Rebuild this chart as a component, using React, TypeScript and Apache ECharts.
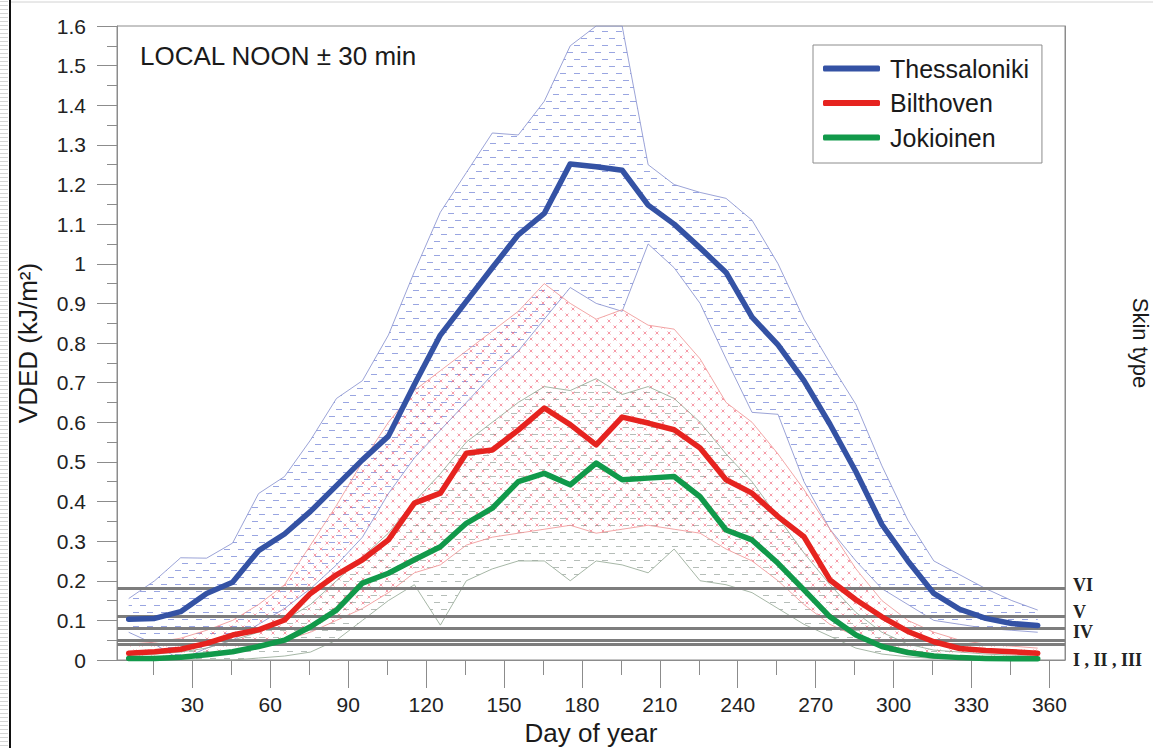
import React, { useEffect, useRef } from "react";
import * as echarts from "echarts";

// ---- data ----
const days = [5.5, 15.5, 25.5, 35.5, 45.5, 55.5, 65.5, 75.5, 85.5, 95.5, 105.5, 115.5, 125.5, 135.5, 145.5, 155.5, 165.5, 175.5, 185.5, 195.5, 205.5, 215.5, 225.5, 235.5, 245.5, 255.5, 265.5, 275.5, 285.5, 295.5, 305.5, 315.5, 325.5, 335.5, 345.5, 355.5];

const thessMean = [0.103, 0.105, 0.122, 0.168, 0.196, 0.276, 0.318, 0.375, 0.44, 0.505, 0.565, 0.695, 0.82, 0.905, 0.99, 1.073, 1.127, 1.252, 1.245, 1.236, 1.148, 1.1, 1.04, 0.978, 0.865, 0.795, 0.705, 0.595, 0.475, 0.342, 0.25, 0.168, 0.128, 0.105, 0.092, 0.087];
const thessMax = [0.155, 0.2, 0.258, 0.257, 0.295, 0.42, 0.463, 0.555, 0.66, 0.705, 0.82, 0.98, 1.13, 1.23, 1.33, 1.325, 1.41, 1.55, 1.6, 1.6, 1.25, 1.2, 1.18, 1.165, 1.11, 1.0, 0.86, 0.75, 0.645, 0.49, 0.353, 0.25, 0.215, 0.18, 0.15, 0.126];
const thessMin = [0.07, 0.04, 0.0, 0.03, 0.05, 0.09, 0.13, 0.18, 0.24, 0.31, 0.42, 0.51, 0.58, 0.65, 0.72, 0.78, 0.86, 0.94, 0.9, 0.88, 1.05, 0.99, 0.9, 0.76, 0.625, 0.62, 0.45, 0.33, 0.25, 0.18, 0.14, 0.1, 0.09, 0.08, 0.075, 0.07];

const bilMean = [0.017, 0.021, 0.027, 0.042, 0.063, 0.076, 0.101, 0.168, 0.215, 0.253, 0.303, 0.396, 0.421, 0.522, 0.53, 0.58, 0.636, 0.594, 0.543, 0.613, 0.598, 0.581, 0.535, 0.455, 0.421, 0.362, 0.311, 0.202, 0.152, 0.109, 0.072, 0.046, 0.029, 0.024, 0.021, 0.017];
const bilMax = [0.04, 0.045, 0.055, 0.075, 0.1, 0.14, 0.19, 0.29, 0.39, 0.5, 0.6, 0.68, 0.73, 0.78, 0.83, 0.88, 0.95, 0.9, 0.86, 0.884, 0.845, 0.835, 0.76, 0.65, 0.6, 0.52, 0.43, 0.33, 0.23, 0.15, 0.1, 0.07, 0.05, 0.04, 0.035, 0.03];
const bilMin = [0.0, 0.0, 0.005, 0.01, 0.02, 0.03, 0.05, 0.07, 0.1, 0.13, 0.17, 0.22, 0.24, 0.29, 0.31, 0.32, 0.33, 0.34, 0.32, 0.33, 0.34, 0.33, 0.32, 0.28, 0.25, 0.2, 0.14, 0.09, 0.06, 0.04, 0.025, 0.015, 0.01, 0.005, 0.005, 0.005];

const jokMean = [0.004, 0.004, 0.007, 0.013, 0.021, 0.034, 0.05, 0.084, 0.126, 0.194, 0.219, 0.253, 0.286, 0.345, 0.383, 0.45, 0.471, 0.442, 0.497, 0.455, 0.459, 0.463, 0.412, 0.328, 0.303, 0.244, 0.177, 0.109, 0.063, 0.034, 0.019, 0.01, 0.006, 0.004, 0.003, 0.003];
const jokMax = [0.015, 0.015, 0.02, 0.03, 0.05, 0.07, 0.1, 0.14, 0.2, 0.26, 0.32, 0.4, 0.47, 0.55, 0.6, 0.65, 0.69, 0.68, 0.71, 0.67, 0.69, 0.66, 0.6, 0.52, 0.45, 0.36, 0.27, 0.19, 0.12, 0.07, 0.04, 0.025, 0.02, 0.015, 0.012, 0.01];
const jokMin = [0.0, 0.0, 0.0, 0.0, 0.0, 0.005, 0.01, 0.02, 0.05, 0.1, 0.15, 0.19, 0.088, 0.2, 0.23, 0.25, 0.25, 0.2, 0.25, 0.24, 0.22, 0.28, 0.2, 0.19, 0.17, 0.13, 0.09, 0.06, 0.03, 0.015, 0.008, 0.004, 0.002, 0.0, 0.0, 0.0];

const xLabelTicks = [30, 60, 90, 120, 150, 180, 210, 240, 270, 300, 330, 360];
const xMinorTicks = [15, 45, 75, 105, 135, 165, 195, 225, 255, 285, 315, 345];

// skin-type thresholds (lines) and where their labels sit
const skinLineValues = [0.1835, 0.112, 0.084, 0.051, 0.044, 0.037];
const skinLabels = ["VI", "V", "IV", "I , II , III"];
const skinLabelValues = [0.194, 0.121, 0.075, 0.003];

const SANS = "'Liberation Sans', Arial, Helvetica, sans-serif";
const SERIF = "'Liberation Serif', 'Times New Roman', serif";
const AXIS_GRAY = "#8c8c8c";

function makeCanvas(w: number, h: number, draw: (c: CanvasRenderingContext2D) => void) {
  const cv = document.createElement("canvas");
  cv.width = w;
  cv.height = h;
  const ctx = cv.getContext("2d");
  if (ctx) draw(ctx);
  return cv;
}

function dashPattern(color: string, oy: number) {
  return makeCanvas(14, 14, (c) => {
    c.strokeStyle = color;
    c.lineWidth = 1;
    c.beginPath();
    const y2 = ((oy + 7) % 14) + 0.5;
    c.moveTo(0, oy + 0.5);
    c.lineTo(6, oy + 0.5);
    c.moveTo(7, y2);
    c.lineTo(13, y2);
    c.stroke();
  });
}

function crossPattern(color: string) {
  return makeCanvas(12, 12, (c) => {
    c.strokeStyle = color;
    c.lineWidth = 1;
    c.beginPath();
    const cross = (x: number, y: number) => {
      c.moveTo(x - 1.5, y - 1.5);
      c.lineTo(x + 1.5, y + 1.5);
      c.moveTo(x + 1.5, y - 1.5);
      c.lineTo(x - 1.5, y + 1.5);
    };
    cross(3, 3);
    cross(9, 9);
    c.stroke();
  });
}

// hatched fill between lower and upper, drawn through the cartesian scale
function bandFill(name: string, lower: number[], upper: number[], pattern: HTMLCanvasElement, z: number) {
  return {
    name: name + " range",
    type: "custom",
    coordinateSystem: "cartesian2d",
    silent: true,
    z,
    data: days.map((d, i) => [d, lower[i], upper[i]]),
    encode: { x: 0, y: [1, 2] },
    renderItem: (params: any, api: any) => {
      if (params.dataIndex !== 0) return null;
      const pts: number[][] = [];
      for (let i = 0; i < days.length; i++) pts.push(api.coord([days[i], upper[i]]));
      for (let i = days.length - 1; i >= 0; i--) pts.push(api.coord([days[i], lower[i]]));
      return {
        type: "polygon",
        shape: { points: pts },
        style: { fill: { image: pattern, repeat: "repeat" }, stroke: "none" },
      };
    },
  };
}

function edgeSeries(name: string, values: number[], color: string, z: number, extra: any = {}) {
  return {
    name,
    type: "line",
    data: days.map((d, i) => [d, values[i]]),
    symbol: "none",
    silent: true,
    lineStyle: { color, width: 1 },
    z,
    ...extra,
  };
}

function meanSeries(name: string, values: number[], color: string) {
  return {
    name,
    type: "line",
    data: days.map((d, i) => [d, values[i]]),
    symbol: "none",
    color,
    lineStyle: { color, width: 5.5, cap: "round", join: "round" },
    itemStyle: { color },
    z: 8,
  };
}

export default function App() {
  const ref = useRef<HTMLDivElement>(null);

  useEffect(() => {
    if (!ref.current) return;
    const chart = echarts.init(ref.current, undefined, { renderer: "svg" });

    const bluePat = dashPattern("rgba(85,105,205,0.6)", 3);
    const redPat = crossPattern("rgba(240,90,110,0.6)");
    const greenPat = dashPattern("rgba(120,135,125,0.55)", 0);
    const stripes = makeCanvas(8, 4, (c) => {
      c.fillStyle = "#d4d4d4";
      c.fillRect(0, 1, 8, 1);
    });

    const skinMarkData: any[] = skinLineValues.map((v) => ({
      yAxis: v,
      lineStyle: { color: "#7d7d7d", width: 3, type: "solid" },
      label: { show: false },
    }));
    skinLabels.forEach((lab, i) => {
      skinMarkData.push({
        yAxis: skinLabelValues[i],
        name: lab,
        lineStyle: { color: "rgba(0,0,0,0)", width: 1 },
        label: { show: true, formatter: lab, color: "#222" },
      });
    });

    const option: any = {
      animation: false,
      backgroundColor: "#ffffff",
      title: {
        text: "LOCAL NOON ± 30 min",
        left: 140,
        top: 43,
        padding: 0,
        textStyle: { fontFamily: SANS, fontSize: 26, fontWeight: "normal", color: "#1a1a1a" },
      },
      legend: {
        orient: "vertical",
        left: 813,
        top: 45,
        padding: [11, 13, 13, 10],
        itemGap: 9.5,
        itemWidth: 57,
        itemHeight: 6,
        icon: "roundRect",
        borderColor: AXIS_GRAY,
        borderWidth: 1,
        backgroundColor: "#ffffff",
        textStyle: { fontFamily: SANS, fontSize: 25, color: "#1a1a1a", padding: [0, 0, 0, 5] },
        data: ["Thessaloniki", "Bilthoven", "Jokioinen"],
      },
      grid: {
        left: 117,
        right: 88,
        top: 26,
        bottom: 88,
        containLabel: false,
        outerBoundsMode: "none",
        show: true,
        borderColor: AXIS_GRAY,
        borderWidth: 1,
        backgroundColor: "transparent",
      },
      xAxis: [
        {
          type: "value",
          min: 1,
          max: 366,
          position: "bottom",
          axisLine: { show: true, lineStyle: { color: AXIS_GRAY, width: 1 } },
          axisTick: { show: true, customValues: xLabelTicks, length: 28, lineStyle: { color: AXIS_GRAY } },
          axisLabel: { customValues: xLabelTicks, margin: 34, fontFamily: SANS, fontSize: 21, color: "#222" },
          splitLine: { show: false },
          name: "Day of year",
          nameLocation: "middle",
          nameGap: 60,
          nameTextStyle: { fontFamily: SANS, fontSize: 26, color: "#1a1a1a" },
        },
        {
          type: "value",
          min: 1,
          max: 366,
          position: "bottom",
          axisLine: { show: false },
          axisTick: { show: true, customValues: xMinorTicks, length: 15, lineStyle: { color: AXIS_GRAY } },
          axisLabel: { show: false },
          splitLine: { show: false },
        },
      ],
      yAxis: [
        {
          type: "value",
          min: 0,
          max: 1.6,
          interval: 0.1,
          position: "left",
          axisLine: { show: true, lineStyle: { color: AXIS_GRAY, width: 1 } },
          axisTick: { show: true, length: 20, lineStyle: { color: AXIS_GRAY } },
          minorTick: { show: true, splitNumber: 2, length: 10, lineStyle: { color: AXIS_GRAY } },
          axisLabel: { margin: 31, fontFamily: SANS, fontSize: 21, color: "#222" },
          splitLine: { show: false },
          minorSplitLine: { show: false },
          name: "VDED (kJ/m²)",
          nameLocation: "middle",
          nameRotate: 90,
          nameGap: 76,
          nameTextStyle: { fontFamily: SANS, fontSize: 26, color: "#1a1a1a" },
        },
        {
          type: "value",
          min: 0,
          max: 1.6,
          position: "right",
          axisLine: { show: true, lineStyle: { color: AXIS_GRAY, width: 1 } },
          axisTick: { show: false },
          axisLabel: { show: false },
          splitLine: { show: false },
          name: "Skin type",
          nameLocation: "middle",
          nameRotate: -90,
          nameGap: 64,
          nameTextStyle: { fontFamily: SANS, fontSize: 22, color: "#1a1a1a" },
        },
      ],
      graphic: [
        { type: "rect", silent: true, shape: { x: 0, y: 0, width: 8, height: 748 }, style: { fill: { image: stripes, repeat: "repeat" } } },
        { type: "rect", silent: true, shape: { x: 9, y: 0, width: 2, height: 748 }, style: { fill: "#111111" } },
        { type: "line", silent: true, shape: { x1: 11, y1: 2, x2: 1153, y2: 2 }, style: { stroke: "#d2d2d2", lineWidth: 1 } },
      ],
      series: [
        bandFill("Thessaloniki", thessMin, thessMax, bluePat, 2),
        bandFill("Bilthoven", bilMin, bilMax, redPat, 2),
        bandFill("Jokioinen", jokMin, jokMax, greenPat, 2),
        edgeSeries("Thessaloniki min", thessMin, "rgba(130,140,205,0.8)", 3),
        edgeSeries("Thessaloniki max", thessMax, "rgba(130,140,205,0.8)", 3),
        edgeSeries("Bilthoven min", bilMin, "rgba(240,150,150,0.85)", 3),
        edgeSeries("Bilthoven max", bilMax, "rgba(240,150,150,0.85)", 3),
        edgeSeries("Jokioinen min", jokMin, "rgba(150,170,150,0.85)", 3),
        edgeSeries("Jokioinen max", jokMax, "rgba(150,170,150,0.85)", 3, {
          markLine: {
            silent: true,
            symbol: "none",
            z: 6,
            label: {
              position: "end",
              distance: 8,
              fontFamily: SERIF,
              fontWeight: "bold",
              fontSize: 18,
              color: "#222",
            },
            data: skinMarkData,
          },
        }),
        meanSeries("Thessaloniki", thessMean, "#3452a4"),
        meanSeries("Bilthoven", bilMean, "#e6231f"),
        meanSeries("Jokioinen", jokMean, "#11994a"),
      ],
    };

    chart.setOption(option);
    return () => chart.dispose();
  }, []);

  return (
    <div
      ref={ref}
      style={{ position: "fixed", left: 0, top: 0, width: 1153, height: 748, background: "#fff" }}
    />
  );
}
